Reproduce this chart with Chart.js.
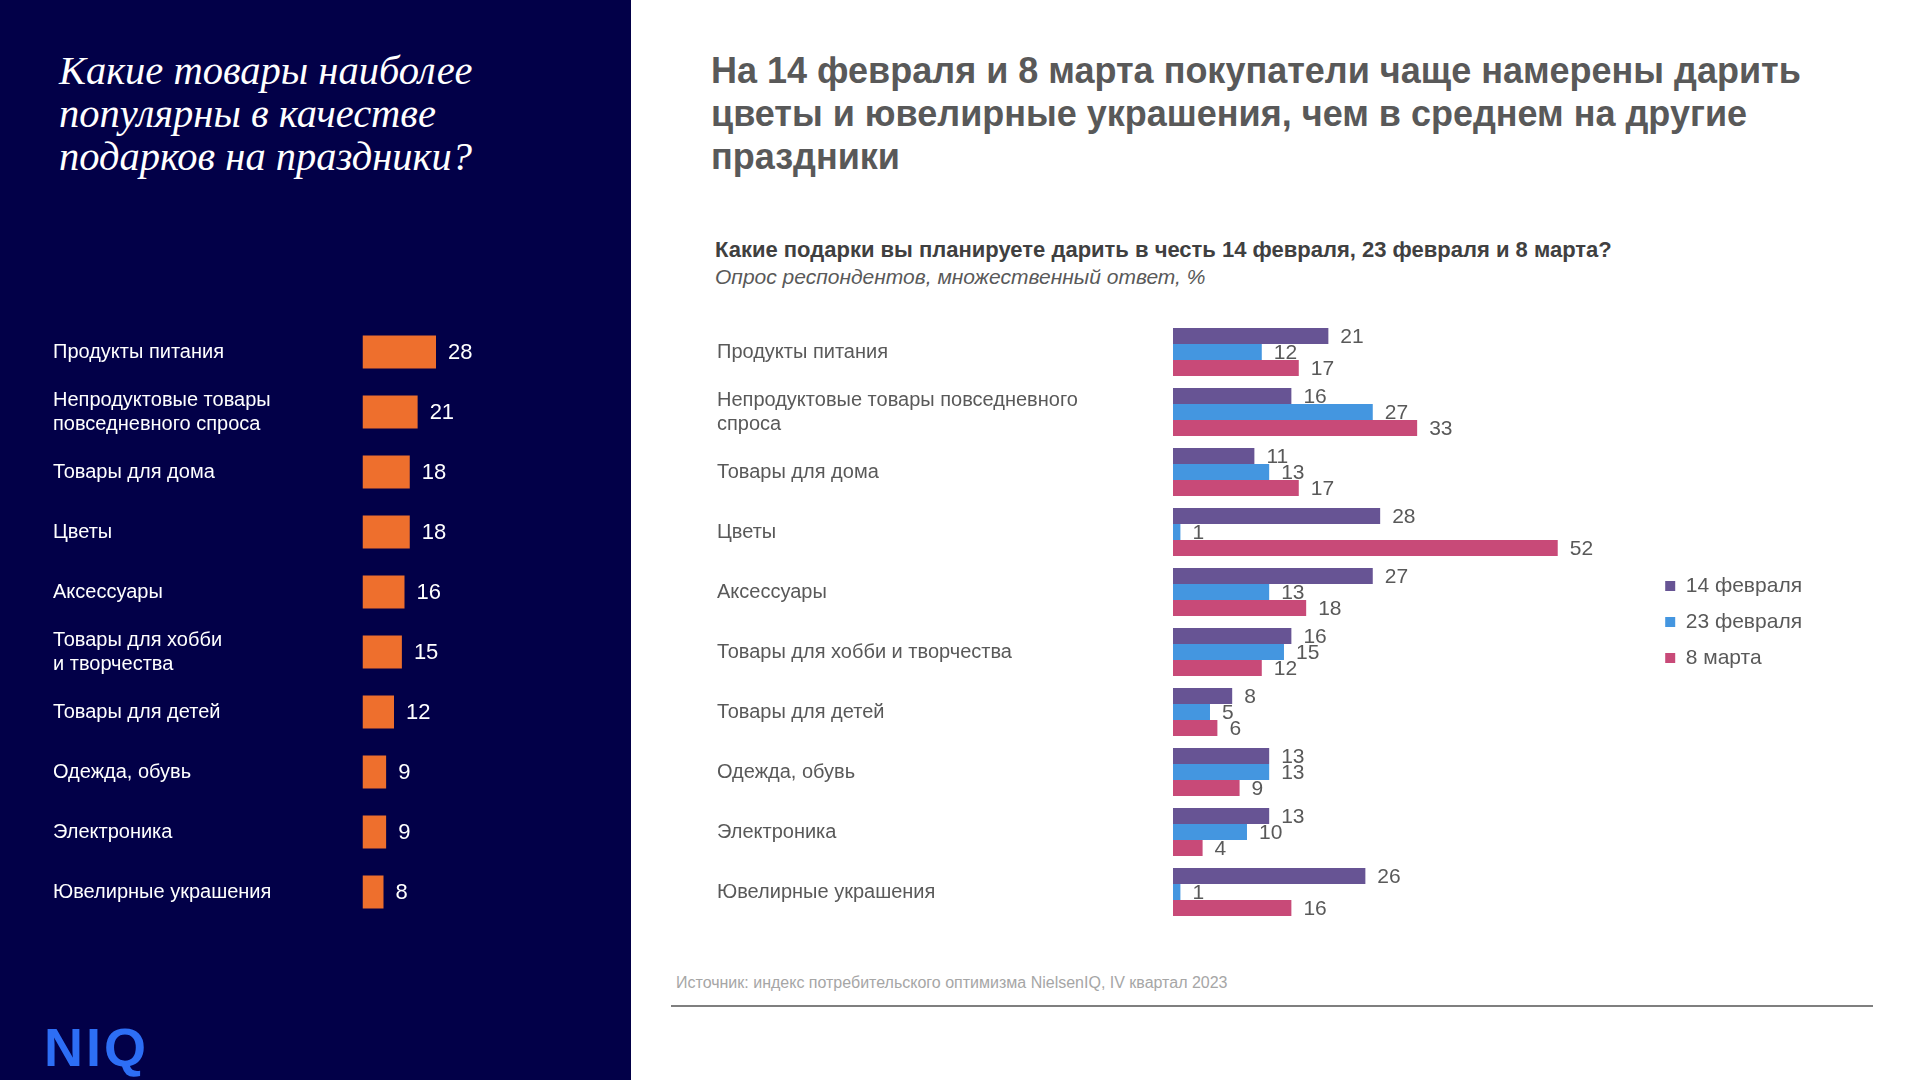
<!DOCTYPE html>
<html lang="ru">
<head>
<meta charset="utf-8">
<script src="https://cdn.jsdelivr.net/npm/chart.js@4.4.1/dist/chart.umd.min.js"></script>
<style>
  html, body { margin:0; padding:0; }
  body { width:1920px; height:1080px; position:relative; overflow:hidden; background:#ffffff; font-family:"Liberation Sans", Arial, sans-serif; }
  #leftPanel { position:absolute; left:0; top:0; width:631px; height:1080px; background:#020048; }
  #leftTitle { position:absolute; left:59px; top:49px; font-family:"Liberation Serif", Georgia, serif; font-style:italic; font-size:40.5px; line-height:43px; color:#ffffff; white-space:nowrap; }
  #headline { position:absolute; left:711px; top:49px; font-size:36px; line-height:43px; font-weight:bold; color:#595959; white-space:nowrap; }
  #subtitle { position:absolute; left:715px; top:238px; font-size:22px; line-height:24px; font-weight:bold; color:#404040; white-space:nowrap; }
  #subnote { position:absolute; left:715px; top:265px; font-size:21px; line-height:24px; font-style:italic; color:#595959; white-space:nowrap; }
  #leftWrap { position:absolute; left:53px; top:322px; width:572px; height:600px; }
  #rightWrap { position:absolute; left:717px; top:322px; width:1095px; height:600px; }
  #source { position:absolute; left:676px; top:974px; font-size:16px; line-height:18px; color:#a6a6a6; white-space:nowrap; }
  #rule { position:absolute; left:671px; top:1005px; width:1202px; height:2px; background:#7f7f7f; }
  #logo { position:absolute; left:44px; top:1017px; font-family:"Liberation Sans", Arial, sans-serif; font-weight:bold; font-size:54px; line-height:60px; color:#2d6ef5; letter-spacing:3px; }
</style>
</head>
<body>
<div id="leftPanel"></div>
<div id="leftTitle">Какие товары наиболее<br>популярны в качестве<br>подарков на праздники?</div>
<div id="headline">На 14 февраля и 8 марта покупатели чаще намерены дарить<br>цветы и ювелирные украшения, чем в среднем на другие<br>праздники</div>
<div id="subtitle">Какие подарки вы планируете дарить в честь 14 февраля, 23 февраля и 8 марта?</div>
<div id="subnote">Опрос респондентов, множественный ответ, %</div>
<div id="leftWrap"><canvas id="leftChart"></canvas></div>
<div id="rightWrap"><canvas id="rightChart"></canvas></div>
<div id="source">Источник: индекс потребительского оптимизма NielsenIQ, IV квартал 2023</div>
<div id="rule"></div>
<div id="logo">NIQ</div>
<script>
// ---- Data ----
const leftCategories = [
  'Продукты питания',
  ['Непродуктовые товары', 'повседневного спроса'],
  'Товары для дома',
  'Цветы',
  'Аксессуары',
  ['Товары для хобби', 'и творчества'],
  'Товары для детей',
  'Одежда, обувь',
  'Электроника',
  'Ювелирные украшения'
];
const leftValues = [28, 21, 18, 18, 16, 15, 12, 9, 9, 8];

const rightCategories = [
  'Продукты питания',
  ['Непродуктовые товары повседневного', 'спроса'],
  'Товары для дома',
  'Цветы',
  'Аксессуары',
  'Товары для хобби и творчества',
  'Товары для детей',
  'Одежда, обувь',
  'Электроника',
  'Ювелирные украшения'
];
const seriesNames = ['14 февраля', '23 февраля', '8 марта'];
const feb14 = [21, 16, 11, 28, 27, 16, 8, 13, 13, 26];
const feb23 = [12, 27, 13, 1, 13, 15, 5, 13, 10, 1];
const mar8  = [17, 33, 17, 52, 18, 12, 6, 9, 4, 16];

// ---- Value label plugin ----
const valueLabels = {
  id: 'valueLabels',
  afterDatasetsDraw(chart, args, opts) {
    const ctx = chart.ctx;
    ctx.save();
    ctx.font = opts.font;
    ctx.fillStyle = opts.color;
    ctx.textAlign = 'left';
    ctx.textBaseline = 'middle';
    chart.data.datasets.forEach((ds, i) => {
      const meta = chart.getDatasetMeta(i);
      if (meta.hidden) return;
      meta.data.forEach((bar, j) => {
        ctx.fillText(String(ds.data[j]), bar.x + opts.offset, bar.y + 1);
      });
    });
    ctx.restore();
  }
};

Chart.defaults.font.family = '"Liberation Sans", Arial, sans-serif';

function fitY(width) {
  return function (scale) {
    scale.width = width;
    scale.paddingTop = 0;
    scale.paddingBottom = 0;
  };
}

// ---- Left chart ----
new Chart(document.getElementById('leftChart'), {
  type: 'bar',
  data: {
    labels: leftCategories,
    datasets: [{
      data: leftValues,
      backgroundColor: '#ee6f2d',
      barPercentage: 0.55,
      categoryPercentage: 1.0
    }]
  },
  options: {
    indexAxis: 'y',
    responsive: true,
    maintainAspectRatio: false,
    animation: false,
    layout: { padding: 0 },
    plugins: {
      legend: { display: false },
      tooltip: { enabled: false },
      valueLabels: { font: '22px "Liberation Sans", Arial, sans-serif', color: '#ffffff', offset: 12 }
    },
    scales: {
      x: { display: false, min: 0, max: 100 },
      y: {
        grid: { display: false, drawTicks: false },
        border: { display: false },
        ticks: { color: '#ffffff', font: { size: 20, lineHeight: 1.2 }, crossAlign: 'far', padding: 0, autoSkip: false },
        afterFit: fitY(309.5)
      }
    }
  },
  plugins: [valueLabels]
});

// ---- Right chart ----
new Chart(document.getElementById('rightChart'), {
  type: 'bar',
  data: {
    labels: rightCategories,
    datasets: [
      { label: seriesNames[0], data: feb14, backgroundColor: '#675494', categoryPercentage: 0.8, barPercentage: 1.0 },
      { label: seriesNames[1], data: feb23, backgroundColor: '#4496e0', categoryPercentage: 0.8, barPercentage: 1.0 },
      { label: seriesNames[2], data: mar8,  backgroundColor: '#c84a78', categoryPercentage: 0.8, barPercentage: 1.0 }
    ]
  },
  options: {
    indexAxis: 'y',
    responsive: true,
    maintainAspectRatio: false,
    animation: false,
    layout: { padding: 0 },
    plugins: {
      legend: {
        position: 'right',
        align: 'center',
        labels: { boxWidth: 10, boxHeight: 10, padding: 15, color: '#595959', font: { size: 21 } }
      },
      tooltip: { enabled: false },
      valueLabels: { font: '21px "Liberation Sans", Arial, sans-serif', color: '#595959', offset: 12 }
    },
    scales: {
      x: { display: false, min: 0, max: 64.5 },
      y: {
        grid: { display: false, drawTicks: false },
        border: { display: false },
        ticks: { color: '#595959', font: { size: 20, lineHeight: 1.2 }, crossAlign: 'far', padding: 0, autoSkip: false },
        afterFit: fitY(456)
      }
    }
  },
  plugins: [valueLabels]
});
</script>
</body>
</html>
